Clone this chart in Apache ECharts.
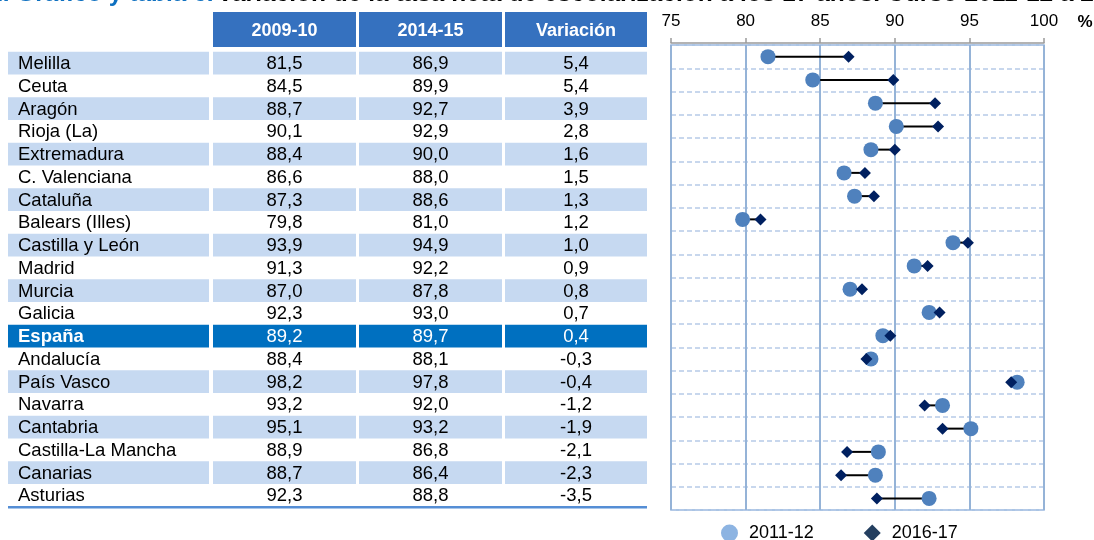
<!DOCTYPE html>
<html lang="es">
<head>
<meta charset="UTF-8">
<title>Tasa neta de escolarización a los 17 años</title>
<script src="https://cdn.jsdelivr.net/npm/echarts@6.0.0/dist/echarts.min.js"></script>
<style>
  html, body { margin: 0; padding: 0; background: #fff; }
  #main { width: 1094px; height: 540px; }
</style>
</head>
<body>
<div id="main"></div>
<script>
var regions = ['Melilla', 'Ceuta', 'Aragón', 'Rioja (La)', 'Extremadura', 'C. Valenciana', 'Cataluña',
  'Balears (Illes)', 'Castilla y León', 'Madrid', 'Murcia', 'Galicia', 'España', 'Andalucía',
  'País Vasco', 'Navarra', 'Cantabria', 'Castilla-La Mancha', 'Canarias', 'Asturias'];
var valuesFirst = [81.5, 84.5, 88.7, 90.1, 88.4, 86.6, 87.3, 79.8, 93.9, 91.3, 87.0, 92.3, 89.2, 88.4,
  98.2, 93.2, 95.1, 88.9, 88.7, 92.3];
var valuesSecond = [86.9, 89.9, 92.7, 92.9, 90.0, 88.0, 88.6, 81.0, 94.9, 92.2, 87.8, 93.0, 89.7, 88.1,
  97.8, 92.0, 93.2, 86.8, 86.4, 88.8];
var variation = [5.4, 5.4, 3.9, 2.8, 1.6, 1.5, 1.3, 1.2, 1.0, 0.9, 0.8, 0.7, 0.4, -0.3,
  -0.4, -1.2, -1.9, -2.1, -2.3, -3.5];
var tableHeaders = ['2009-10', '2014-15', 'Variación'];
var seriesNames = ['2011-12', '2016-17'];
var axisMin = 75, axisMax = 100, axisStep = 5;

var FONT = "'Liberation Sans', Arial, sans-serif";
var cols = [[8, 209], [213, 356], [359, 502], [505, 647]];

function fmt(v) {
  return v.toFixed(1).replace('.', ',');
}

var chart = echarts.init(document.getElementById('main'));

function renderRow(params, api) {
  var i = api.value(1);
  var c = api.coord([0.5, i]);
  var h = api.size([0, 1])[1];
  var top = c[1] - h / 2;
  var spain = regions[i] === 'España';
  var fill = spain ? '#0070C0' : (i % 2 === 0 ? '#C6D9F1' : null);
  var color = spain ? '#fff' : '#000';
  var children = [];
  if (fill) {
    cols.forEach(function (col) {
      children.push({ type: 'rect', shape: { x: col[0], y: top, width: col[1] - col[0], height: h }, style: { fill: fill } });
    });
  }
  var texts = [regions[i], fmt(valuesFirst[i]), fmt(valuesSecond[i]), fmt(variation[i])];
  texts.forEach(function (t, k) {
    children.push({
      type: 'text',
      style: {
        text: t,
        x: k === 0 ? cols[0][0] + 10 : (cols[k][0] + cols[k][1]) / 2,
        y: c[1] + 1,
        align: k === 0 ? 'left' : 'center',
        verticalAlign: 'middle',
        fill: color,
        font: (spain && k === 0 ? 'bold ' : '') + '18.5px ' + FONT
      }
    });
  });
  return { type: 'group', children: children };
}

function renderLink(params, api) {
  var i = api.value(0);
  var p1 = api.coord([api.value(1), i]);
  var p2 = api.coord([api.value(2), i]);
  return {
    type: 'line',
    shape: { x1: p1[0], y1: p1[1], x2: p2[0], y2: p2[1] },
    style: { stroke: '#000', lineWidth: 2 }
  };
}

var graphics = [{
  type: 'text', x: -11, y: -6,
  style: {
    text: '{b|2. Gráfico y tabla 6.} {k|Variación de la tasa neta de escolarización a los 17 años. Curso 2011-12 a 2016-17}',
    verticalAlign: 'middle',
    rich: {
      b: { fill: '#0E70C0', font: 'bold 24.5px ' + FONT },
      k: { fill: '#000', font: 'bold 24.5px ' + FONT }
    }
  }
}, {
  type: 'text', x: 1085, y: 22,
  style: { text: '%', align: 'center', verticalAlign: 'middle', fill: '#000', font: 'bold 17px ' + FONT }
}, {
  type: 'rect', shape: { x: 8, y: 506, width: 639, height: 2.5 }, style: { fill: '#558ED5' }
}];
tableHeaders.forEach(function (t, k) {
  var col = cols[k + 1];
  graphics.push({ type: 'rect', shape: { x: col[0], y: 12, width: col[1] - col[0], height: 35 }, style: { fill: '#3571BF' } });
  graphics.push({
    type: 'text', x: (col[0] + col[1]) / 2, y: 31,
    style: { text: t, align: 'center', verticalAlign: 'middle', fill: '#fff', font: 'bold 18px ' + FONT }
  });
});

var option = {
  animation: false,
  backgroundColor: '#fff',
  textStyle: { fontFamily: FONT },
  graphic: graphics,
  grid: [
    { left: 8, top: 51.7, width: 639, height: 455 },
    { left: 671, right: 50, top: 45, bottom: 30, show: true, borderColor: '#8EB1DC', borderWidth: 1.5 }
  ],
  xAxis: [
    { gridIndex: 0, type: 'value', min: 0, max: 1, show: false },
    {
      gridIndex: 1, type: 'value', position: 'top', offset: 2,
      min: axisMin, max: axisMax, interval: axisStep,
      axisLine: { show: true, lineStyle: { color: '#9A9A9A', width: 1.5 } },
      axisTick: { show: true, length: 5, lineStyle: { color: '#9A9A9A', width: 1.5 } },
      axisLabel: { fontSize: 17, color: '#000', margin: 13 },
      splitLine: { show: true, lineStyle: { color: '#95B3D7', width: 2 } }
    }
  ],
  yAxis: [
    { gridIndex: 0, type: 'category', data: regions, inverse: true, show: false },
    {
      gridIndex: 1, type: 'category', data: regions, inverse: true,
      axisLine: { show: false }, axisTick: { show: false }, axisLabel: { show: false },
      splitLine: { show: true, lineStyle: { color: '#B7CAE8', width: 1.5, type: [5, 3] } }
    }
  ],
  legend: {
    left: 716, top: 519,
    itemWidth: 17, itemHeight: 17, itemGap: 50,
    textStyle: { fontSize: 18, color: '#000', padding: [0, 0, 0, 6] },
    data: [
      { name: seriesNames[0], icon: 'circle', itemStyle: { color: '#8DB4E2' } },
      { name: seriesNames[1], icon: 'diamond', itemStyle: { color: '#243F60' } }
    ]
  },
  series: [
    {
      type: 'custom', xAxisIndex: 0, yAxisIndex: 0,
      renderItem: renderRow,
      encode: { x: 0, y: 1 },
      data: regions.map(function (r, i) { return [0.5, i]; }),
      silent: true
    },
    {
      type: 'custom', xAxisIndex: 1, yAxisIndex: 1,
      renderItem: renderLink,
      encode: { x: [1, 2], y: 0 },
      data: regions.map(function (r, i) { return [i, valuesFirst[i], valuesSecond[i]]; }),
      silent: true
    },
    {
      name: seriesNames[0], type: 'scatter', xAxisIndex: 1, yAxisIndex: 1,
      symbol: 'circle', symbolSize: 15,
      itemStyle: { color: '#4F81BD', opacity: 1 },
      data: valuesFirst.map(function (v, i) { return [v, i]; })
    },
    {
      name: seriesNames[1], type: 'scatter', xAxisIndex: 1, yAxisIndex: 1,
      symbol: 'diamond', symbolSize: 12,
      itemStyle: { color: '#002060', opacity: 1 },
      data: valuesSecond.map(function (v, i) { return [v, i]; })
    }
  ]
};
chart.setOption(option);
</script>
</body>
</html>
